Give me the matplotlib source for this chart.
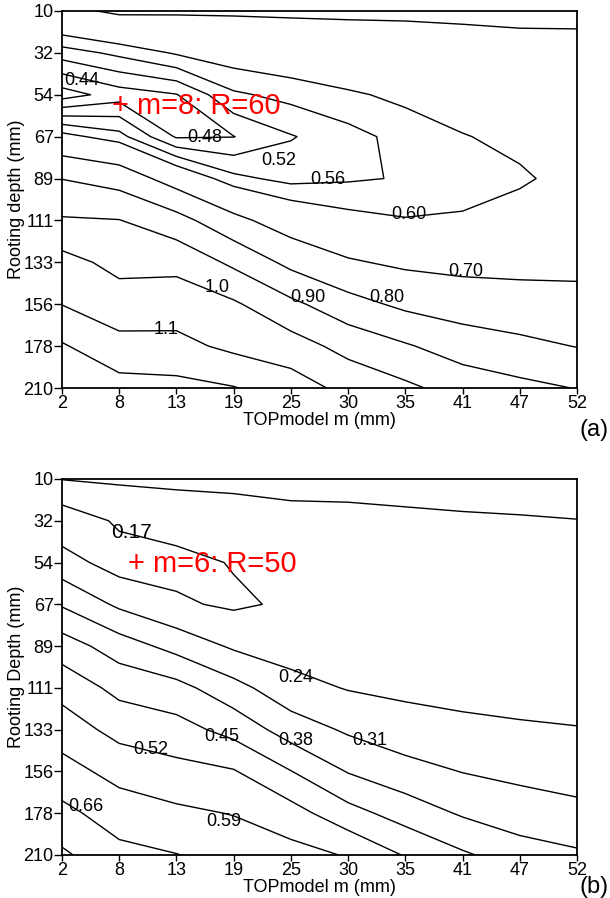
import matplotlib
matplotlib.use("Agg")
import matplotlib.pyplot as plt
import numpy as np

plt.rcParams["font.family"] = ["Liberation Sans", "DejaVu Sans"]

# axis tick labels (grid is evenly spaced in both directions)
m_ticks = [2, 8, 13, 19, 25, 30, 35, 41, 47, 52]
depth_ticks = [10, 32, 54, 67, 89, 111, 133, 156, 178, 210]

# panel (a): values, one row per depth tick (top to bottom)
za = [
    [0.680, 0.713, 0.710, 0.710, 0.712, 0.713, 0.712, 0.713, 0.714, 0.715],
    [0.540, 0.570, 0.605, 0.627, 0.640, 0.651, 0.662, 0.672, 0.680, 0.680],
    [0.420, 0.460, 0.478, 0.553, 0.573, 0.593, 0.611, 0.632, 0.650, 0.652],
    [0.618, 0.575, 0.475, 0.479, 0.517, 0.545, 0.575, 0.597, 0.615, 0.635],
    [0.798, 0.760, 0.655, 0.571, 0.547, 0.555, 0.563, 0.586, 0.592, 0.620],
    [0.910, 0.903, 0.837, 0.726, 0.649, 0.616, 0.603, 0.604, 0.625, 0.640],
    [1.035, 0.970, 0.973, 0.880, 0.773, 0.710, 0.683, 0.673, 0.675, 0.675],
    [1.098, 1.047, 1.052, 1.014, 0.923, 0.836, 0.779, 0.752, 0.735, 0.730],
    [1.210, 1.130, 1.128, 1.078, 1.043, 0.968, 0.910, 0.853, 0.825, 0.797],
    [1.280, 1.240, 1.230, 1.205, 1.150, 1.070, 1.020, 0.960, 0.925, 0.897],
]
levels_a = [0.44, 0.48, 0.52, 0.56, 0.60, 0.70, 0.80, 0.90, 1.0, 1.1, 1.2]
labels_a = ["0.44", "0.48", "0.52", "0.56", "0.60", "0.70", "0.80", "0.90", "1.0", "1.1"]

# panel (b)
zb = [
    [0.242, 0.250, 0.254, 0.254, 0.253, 0.250, 0.248, 0.247, 0.246, 0.245],
    [0.126, 0.180, 0.200, 0.214, 0.228, 0.232, 0.236, 0.238, 0.239, 0.2398],
    [0.198, 0.140, 0.150, 0.174, 0.200, 0.215, 0.222, 0.226, 0.228, 0.230],
    [0.303, 0.227, 0.179, 0.160, 0.180, 0.205, 0.212, 0.215, 0.218, 0.220],
    [0.415, 0.345, 0.286, 0.230, 0.210, 0.210, 0.210, 0.210, 0.212, 0.215],
    [0.495, 0.430, 0.404, 0.334, 0.264, 0.236, 0.225, 0.220, 0.218, 0.220],
    [0.557, 0.497, 0.476, 0.427, 0.347, 0.300, 0.270, 0.255, 0.247, 0.242],
    [0.616, 0.567, 0.542, 0.525, 0.452, 0.376, 0.335, 0.308, 0.295, 0.278],
    [0.679, 0.626, 0.604, 0.587, 0.548, 0.475, 0.420, 0.372, 0.340, 0.330],
    [0.742, 0.680, 0.662, 0.635, 0.615, 0.585, 0.515, 0.460, 0.415, 0.390],
]
levels_b = [0.17, 0.24, 0.31, 0.38, 0.45, 0.52, 0.59, 0.66, 0.73]
labels_b = ["0.17", "0.24", "0.31", "0.38", "0.45", "0.52", "0.59", "0.66"]

# where the contour labels sit (grid index units)
label_pos_a = [(0.34, 1.65), (2.50, 3.03), (3.79, 3.58), (4.65, 4.03), (6.07, 4.87),
               (7.05, 6.23), (5.68, 6.83), (4.30, 6.85), (2.71, 6.59), (1.82, 7.61)]
label_pos_b = [(1.22, 1.29), (4.09, 4.76), (5.37, 6.27), (4.09, 6.27),
               (2.80, 6.17), (1.56, 6.48), (2.83, 8.21), (0.42, 7.85)]
label_size_b = [15, 13, 13, 13, 13, 13, 13, 13]


def draw_panel(ax, z, levels, labels, label_pos, label_size, note, note_pos, ylabel):
    x = np.arange(len(m_ticks))
    y = np.arange(len(depth_ticks))
    ax.contour(x, y, np.array(z), levels=levels, colors="black", linewidths=1.0)

    for txt, (lx, ly), fs in zip(labels, label_pos, label_size):
        ax.text(lx, ly, txt, fontsize=fs, ha="center", va="center")

    ax.text(note_pos[0], note_pos[1], note, color="red", fontsize=21,
            ha="left", va="center")

    ax.set_xlim(0, len(m_ticks) - 1)
    ax.set_ylim(len(depth_ticks) - 1, 0)
    ax.set_xticks(x)
    ax.set_xticklabels([str(v) for v in m_ticks])
    ax.set_yticks(y)
    ax.set_yticklabels([str(v) for v in depth_ticks])
    ax.tick_params(axis="y", direction="out", length=6, width=1, pad=0, labelsize=13)
    ax.tick_params(axis="x", direction="out", length=4, width=1, pad=1, labelsize=13)
    ax.set_xlabel("TOPmodel m (mm)", fontsize=13, labelpad=0)
    ax.set_ylabel(ylabel, fontsize=13, labelpad=-1)
    for sp in ax.spines.values():
        sp.set_linewidth(1.3)


fig = plt.figure(figsize=(6.1, 8.98), dpi=100)
ax_a = fig.add_axes([0.1016, 0.5679, 0.8443, 0.4199])
ax_b = fig.add_axes([0.1016, 0.0479, 0.8443, 0.4187])

draw_panel(ax_a, za, levels_a, labels_a, label_pos_a, [13] * len(labels_a),
           "+ m=8: R=60", (0.87, 2.27), "Rooting depth (mm)")
draw_panel(ax_b, zb, levels_b, labels_b, label_pos_b, label_size_b,
           "+ m=6: R=50", (1.15, 2.03), "Rooting Depth (mm)")

fig.text(0.974, 0.521, "(a)", fontsize=17, ha="center", va="center")
fig.text(0.974, 0.012, "(b)", fontsize=17, ha="center", va="center")

fig.savefig("out.png", dpi=100)
